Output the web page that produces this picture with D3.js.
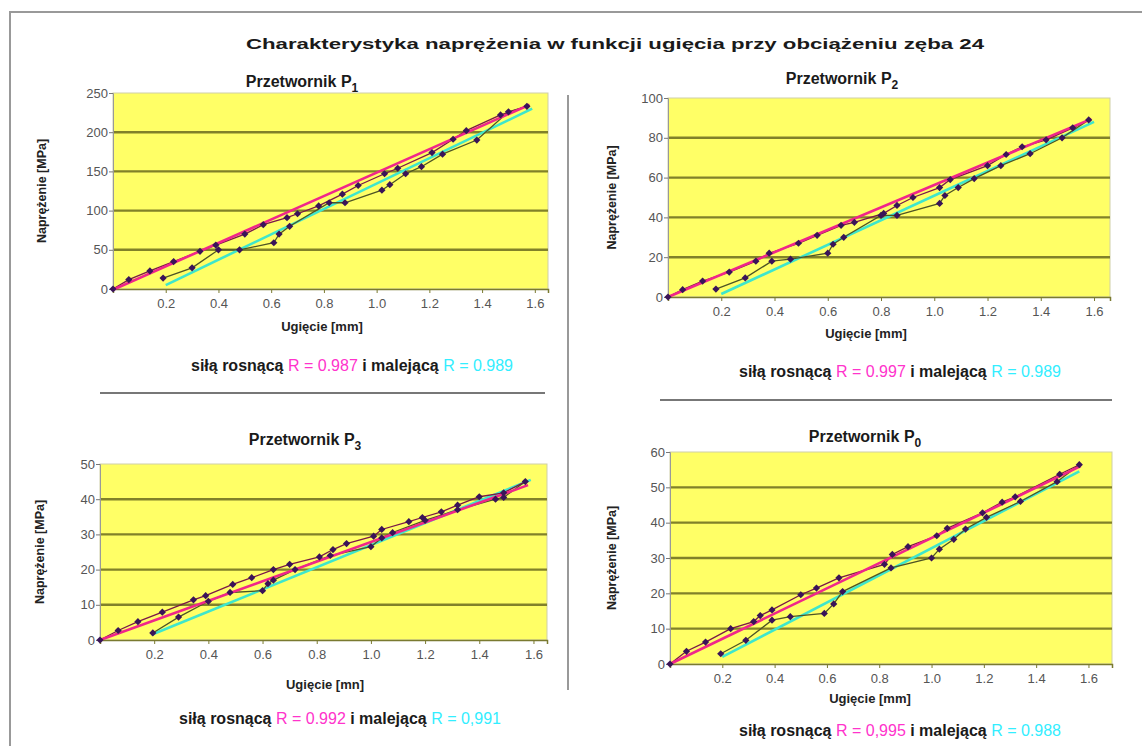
<!DOCTYPE html>
<html>
<head>
<meta charset="utf-8">
<script src="https://cdn.jsdelivr.net/npm/d3@7"></script>
<style>
  body { margin: 0; background: #fff; }
  svg { display: block; font-family: "Liberation Sans", Arial, sans-serif; }
  .tick text { fill: #555; font-size: 13px; }
</style>
</head>
<body>
<div id="chart"></div>
<script>
// [ugięcie mm, naprężenie MPa]
const p1Rise = [[0,0],[0.06,12],[0.14,23],[0.23,35],[0.33,48],[0.39,56],[0.50,70],[0.57,82],[0.66,91],[0.70,96],[0.78,106],[0.87,121],[0.93,132],[1.03,147],[1.08,154],[1.21,174],[1.29,191],[1.34,202],[1.47,222],[1.57,233]];
const p1Fall = [[1.57,233],[1.50,226],[1.38,190],[1.25,172],[1.17,156],[1.11,147],[1.05,133],[1.02,126],[0.88,110],[0.82,110],[0.67,80],[0.63,70],[0.61,59],[0.48,50],[0.40,50],[0.30,27],[0.19,14]];
const p1TrendUp = [[0,-1],[1.58,235]];
const p1TrendDown = [[0.2,5],[1.59,230]];

const p2Rise = [[0,0],[0.055,3.7],[0.13,8],[0.23,12.5],[0.33,18],[0.38,22],[0.49,27],[0.56,31],[0.65,36],[0.70,37.5],[0.81,42],[0.86,46],[0.92,50],[1.02,55],[1.06,59],[1.20,66],[1.27,71.6],[1.33,75.5],[1.42,79],[1.52,85],[1.58,89]];
const p2Fall = [[1.58,89],[1.48,80],[1.36,72],[1.25,66],[1.15,59.5],[1.09,55],[1.04,51],[1.02,47],[0.86,41],[0.80,41],[0.66,30],[0.62,26.5],[0.60,22],[0.46,19],[0.39,18],[0.29,9.6],[0.18,4]];
const p2TrendUp = [[0,0],[1.59,89.5]];
const p2TrendDown = [[0.2,1.5],[1.6,88]];

const p3Rise = [[0,0],[0.067,2.7],[0.14,5.2],[0.23,7.9],[0.345,11.4],[0.39,12.6],[0.49,15.8],[0.56,17.7],[0.64,20],[0.70,21.5],[0.81,23.6],[0.86,25.7],[0.91,27.4],[1.01,29.5],[1.04,31.4],[1.14,33.6],[1.19,34.8],[1.26,36.4],[1.32,38.3],[1.40,40.7],[1.49,41.8],[1.57,45]];
const p3Fall = [[1.57,45],[1.49,40.5],[1.46,40],[1.32,37],[1.20,34],[1.08,30.5],[1.04,29],[1.00,26.5],[0.85,24],[0.72,20],[0.64,17],[0.62,16],[0.60,14],[0.48,13.5],[0.40,11],[0.29,6.5],[0.195,2]];
const p3TrendUp = [[0,0],[1.58,44]];
const p3TrendDown = [[0.19,1.5],[1.59,45.5]];

const p4Rise = [[0,0],[0.063,3.6],[0.136,6.2],[0.232,10],[0.32,12],[0.345,13.7],[0.39,15.3],[0.50,19.6],[0.56,21.5],[0.646,24.4],[0.82,28.2],[0.85,31],[0.91,33.2],[1.02,36.3],[1.06,38.4],[1.195,42.8],[1.27,45.8],[1.32,47.3],[1.49,53.7],[1.565,56.4]];
const p4Fall = [[1.565,56.4],[1.48,51.6],[1.34,46],[1.21,41.5],[1.13,38.2],[1.085,35.3],[1.03,32.5],[1.00,30],[0.845,27.2],[0.66,20.5],[0.626,17],[0.59,14.3],[0.46,13.4],[0.39,12.4],[0.29,6.7],[0.194,2.9]];
const p4TrendUp = [[0,0],[1.57,56]];
const p4TrendDown = [[0.2,2],[1.565,54.5]];

const xTicks = [0.2, 0.4, 0.6, 0.8, 1.0, 1.2, 1.4, 1.6];
const sub = ['1', '2', '3', '0'];
const yMax = [250, 100, 50, 60];
const yStep = [50, 20, 10, 10];
const rUp = ['0.987', '0.997', '0.992', '0,995'];
const rDown = ['0.989', '0.989', '0,991', '0.988'];

const W = 1142, H = 746;
const C = {
  plot: '#ffff66', grid: '#818129', axis: '#7a7a30',
  up: '#f0268a', down: '#3ee6cc', rise: '#7a1848', fall: '#4e5424', marker: '#3a1458',
  rText: '#ff33cc', dText: '#33eeff', sep: '#777'
};

// rozmieszczenie paneli
const layout = [
  { l: 113, r: 548, t: 93, b: 289, xMax: 1.65, tx: 302, ty: 87, yl: 46, xlx: 322, xly: 331, cx: 352, cy: 371, sep: [100, 545, 393] },
  { l: 668, r: 1110, t: 98, b: 297, xMax: 1.66, tx: 842, ty: 84, yl: 616, xlx: 866, xly: 338, cx: 900, cy: 377, sep: [660, 1112, 400] },
  { l: 100, r: 547, t: 464, b: 640, xMax: 1.65, tx: 305, ty: 445, yl: 44, xlx: 325, xly: 689, cx: 340, cy: 724, sep: null },
  { l: 670, r: 1112, t: 452, b: 664, xMax: 1.69, tx: 865, ty: 442, yl: 616, xlx: 870, xly: 703, cx: 900, cy: 736, sep: null }
];
const series = [
  [p1Rise, p1Fall, p1TrendUp, p1TrendDown],
  [p2Rise, p2Fall, p2TrendUp, p2TrendDown],
  [p3Rise, p3Fall, p3TrendUp, p3TrendDown],
  [p4Rise, p4Fall, p4TrendUp, p4TrendDown]
];

const svg = d3.select('#chart').append('svg').attr('width', W).attr('height', H);

// ramka
svg.append('path').attr('d', `M10,${H + 5}V12H${W + 5}`)
  .attr('fill', 'none').attr('stroke', '#999').attr('stroke-width', 2);

svg.append('text').attr('x', 615).attr('y', 49).attr('text-anchor', 'middle')
  .attr('font-size', 15).attr('font-weight', 'bold').attr('fill', '#1a1a1a')
  .attr('textLength', 738).attr('lengthAdjust', 'spacingAndGlyphs')
  .text('Charakterystyka naprężenia w funkcji ugięcia przy obciążeniu zęba 24');

svg.append('line').attr('x1', 568).attr('x2', 568).attr('y1', 95).attr('y2', 690)
  .attr('stroke', C.sep).attr('stroke-width', 1.5);

layout.forEach((L, i) => {
  const [rise, fall, tUp, tDown] = series[i];
  const x = d3.scaleLinear().domain([0, L.xMax]).range([L.l, L.r]);
  const y = d3.scaleLinear().domain([0, yMax[i]]).range([L.b, L.t]);
  const g = svg.append('g');

  g.append('rect').attr('x', L.l).attr('y', L.t).attr('width', L.r - L.l).attr('height', L.b - L.t)
    .attr('fill', C.plot).attr('stroke', '#cfcfa8').attr('stroke-width', 1);

  const yTicks = d3.range(0, yMax[i] + 1, yStep[i]);
  g.selectAll('.grid').data(yTicks.slice(1, -1)).join('line')
    .attr('x1', L.l).attr('x2', L.r).attr('y1', d => y(d)).attr('y2', d => y(d))
    .attr('stroke', C.grid).attr('stroke-width', 2.4);

  const ya = g.append('g').attr('transform', `translate(${L.l},0)`)
    .call(d3.axisLeft(y).tickValues(yTicks).tickSize(4).tickPadding(1));
  ya.select('.domain').attr('stroke', '#999');
  ya.selectAll('.tick line').attr('stroke', '#777');

  const xa = g.append('g').attr('transform', `translate(0,${L.b})`)
    .call(d3.axisBottom(x).tickValues(xTicks).tickSize(4).tickPadding(6).tickFormat(d3.format('.1f')));
  xa.select('.domain').attr('stroke', C.axis).attr('stroke-width', 1.5);
  xa.selectAll('.tick line').attr('stroke', C.axis);

  const line = d3.line().x(d => x(d[0])).y(d => y(d[1]));
  g.append('path').datum(tDown).attr('d', line).attr('fill', 'none').attr('stroke', C.down).attr('stroke-width', 2.6);
  g.append('path').datum(fall).attr('d', line).attr('fill', 'none').attr('stroke', C.fall).attr('stroke-width', 1.3);
  g.append('path').datum(rise).attr('d', line).attr('fill', 'none').attr('stroke', C.rise).attr('stroke-width', 1.3);
  g.append('path').datum(tUp).attr('d', line).attr('fill', 'none').attr('stroke', C.up).attr('stroke-width', 2.6);

  const diamond = d3.symbol().type(d3.symbolSquare2 || d3.symbolDiamond).size(24);
  g.selectAll('.m').data(rise.concat(fall.slice(1))).join('path')
    .attr('transform', d => `translate(${x(d[0])},${y(d[1])}) rotate(45)`)
    .attr('d', d3.symbol().type(d3.symbolSquare).size(26)).attr('fill', C.marker);

  // tytuł panelu
  const t = g.append('text').attr('x', L.tx).attr('y', L.ty).attr('text-anchor', 'middle')
    .attr('font-size', 16).attr('font-weight', 'bold').attr('fill', '#1a1a1a');
  t.append('tspan').text('Przetwornik P');
  t.append('tspan').attr('dy', 5).attr('font-size', 12).text(sub[i]);

  g.append('text').attr('transform', `translate(${L.yl},${(L.t + L.b) / 2}) rotate(-90)`)
    .attr('text-anchor', 'middle').attr('font-size', 12.5).attr('font-weight', 'bold').attr('fill', '#222')
    .text('Naprężenie [MPa]');
  g.append('text').attr('x', L.xlx).attr('y', L.xly).attr('text-anchor', 'middle')
    .attr('font-size', 13).attr('font-weight', 'bold').attr('fill', '#222')
    .text(i === 2 ? 'Ugięcie [mn]' : 'Ugięcie [mm]');

  const c = g.append('text').attr('x', L.cx).attr('y', L.cy).attr('text-anchor', 'middle')
    .attr('font-size', 16).attr('fill', '#1a1a1a');
  c.append('tspan').attr('font-weight', 'bold').text('siłą rosnącą ');
  c.append('tspan').attr('fill', C.rText).text('R = ' + rUp[i]);
  c.append('tspan').attr('font-weight', 'bold').text('  i malejącą ');
  c.append('tspan').attr('fill', C.dText).text('R = ' + rDown[i]);

  if (L.sep) {
    g.append('line').attr('x1', L.sep[0]).attr('x2', L.sep[1]).attr('y1', L.sep[2]).attr('y2', L.sep[2])
      .attr('stroke', C.sep).attr('stroke-width', 2);
  }
});
</script>
</body>
</html>
